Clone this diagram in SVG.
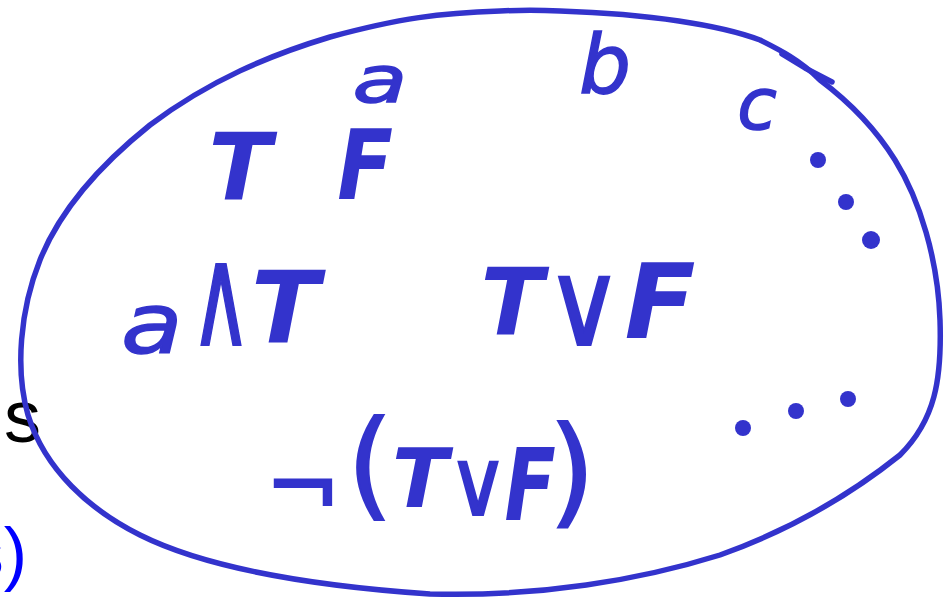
<svg xmlns="http://www.w3.org/2000/svg" width="949" height="599" viewBox="0 0 949 599">
<style>
.ink{fill:#3333cc;font-family:"DejaVu Sans",sans-serif;}
.cap{font-weight:bold;font-style:oblique;}
.low{font-style:oblique;stroke:#3333cc;stroke-width:1.5;}
.sym{stroke:#3333cc;stroke-width:2;}
.stroke{fill:none;stroke:#3333cc;stroke-width:5.5;stroke-linecap:round;stroke-linejoin:round;}
.dot{fill:#3333cc;}
</style>
<rect width="949" height="599" fill="#ffffff"/>
<text x="41" y="442" text-anchor="end" font-family="Liberation Sans, sans-serif" font-size="74" fill="#000000">ns</text>
<text x="27" y="577" text-anchor="end" font-family="Liberation Sans, sans-serif" font-size="70" fill="#0000ff">s)</text>
<path class="stroke" d="M500,11 C440,13 400,18 330,37 C270,55 210,80 150,125 C100,165 60,210 40,260 C20,310 15,370 28,415 C45,470 90,510 140,535 C200,565 300,585 430,594 C540,597 640,580 720,555 C790,530 850,495 900,455 C935,420 942,380 940,320 C938,260 920,200 895,160 C870,120 840,95 820,80 C800,60 780,50 760,40 C720,25 650,14 560,11 C540,10 520,10 500,11 Z"/>
<path class="stroke" d="M782,54 L805,68 L832,82"/>
<g id="row1">
<text class="ink low" transform="translate(380,102) scale(1.4,1)" font-size="64" text-anchor="middle">a</text>
<text class="ink low" x="605" y="93" font-size="82" text-anchor="middle">b</text>
<text class="ink low" x="757" y="129" font-size="72" text-anchor="middle">c</text>
<text class="ink cap" x="240" y="199" font-size="92" text-anchor="middle">T</text>
<text class="ink cap" transform="translate(365,199) scale(0.85,1)" font-size="96" text-anchor="middle">F</text>
<circle class="dot" cx="818" cy="160" r="8"/>
<circle class="dot" cx="846" cy="202" r="8"/>
<circle class="dot" cx="871" cy="240" r="9"/>
</g>
<g id="row2">
<text class="ink low" transform="translate(152,353) scale(1.2,1)" font-size="84" text-anchor="middle">a</text>
<text class="ink sym" transform="translate(221,345) scale(0.6,1)" font-size="140" text-anchor="middle">∧</text>
<text class="ink cap" x="285" y="343" font-size="100" text-anchor="middle">T</text>
<text class="ink cap" x="512" y="334" font-size="92" text-anchor="middle">T</text>
<text class="ink sym" transform="translate(584,345) scale(0.9,1)" font-size="118" text-anchor="middle">∨</text>
<text class="ink cap" x="660" y="338" font-size="104" text-anchor="middle">F</text>
</g>
<g id="row3">
<text class="ink sym" x="303" y="518" font-size="90" text-anchor="middle">¬</text>
<text class="ink sym" x="370" y="505" font-size="118" text-anchor="middle">(</text>
<text class="ink cap" x="420" y="507" font-size="82" text-anchor="middle">T</text>
<text class="ink sym" transform="translate(478,515) scale(0.9,1)" font-size="92" text-anchor="middle">∨</text>
<text class="ink cap" transform="translate(530,520) scale(0.75,1)" font-size="100" text-anchor="middle">F</text>
<text class="ink sym" x="572" y="512" font-size="120" text-anchor="middle">)</text>
<circle class="dot" cx="743" cy="428" r="8"/>
<circle class="dot" cx="796" cy="411" r="8"/>
<circle class="dot" cx="848" cy="399" r="8"/>
</g>
</svg>
